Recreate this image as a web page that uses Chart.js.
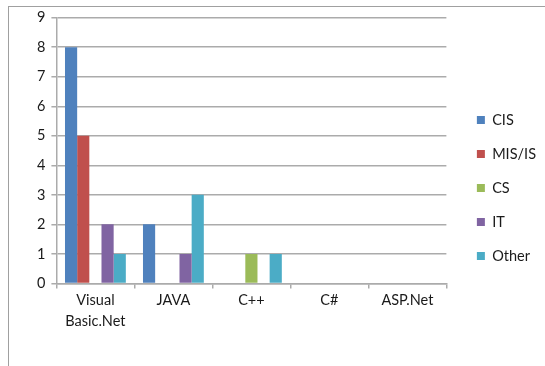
<!DOCTYPE html>
<html>
<head>
<meta charset="utf-8">
<script src="https://cdn.jsdelivr.net/npm/chart.js@4/dist/chart.umd.min.js"></script>
<style>
  html, body { margin: 0; padding: 0; background: #fff; overflow: hidden; }
  .frame {
    position: absolute; left: 8px; top: 6px;
    width: 560px; height: 400px;
    border: 1px solid #a0a0a0;
  }
  .box { position: absolute; left: 0; top: -4px; width: 536px; height: 363px; }
</style>
</head>
<body>
<div class="frame"><div class="box"><canvas id="chart"></canvas></div></div>
<script>
// languages vs. number of programs
const categories = [['Visual', 'Basic.Net'], 'JAVA', 'C++', 'C#', 'ASP.Net'];
const cis   = [8, 2, 0, 0, 0];
const misIs = [5, 0, 0, 0, 0];
const cs    = [0, 0, 1, 0, 0];
const it    = [2, 1, 0, 0, 0];
const other = [1, 3, 1, 0, 0];
const yTicks = [0, 1, 2, 3, 4, 5, 6, 7, 8, 9];

const seriesNames  = ['CIS', 'MIS/IS', 'CS', 'IT', 'Other'];
const seriesValues = [cis, misIs, cs, it, other];
const seriesColors = ['#4F81BD', '#C0504D', '#9BBB59', '#8064A2', '#4BACC6'];

const font = { family: 'Lato, "Open Sans", sans-serif', size: 14.5 };
const textColor = '#1a1a1a';
const gridColor = '#ababab';

// nudge the legend away from the plot, like the original
const legendShift = {
  id: 'legendShift',
  afterLayout(chart) {
    const lg = chart.legend;
    if (!lg) return;
    lg.left += 11; lg.right += 11;
    lg.top += 19; lg.bottom += 19;
  }
};

new Chart(document.getElementById('chart'), {
  type: 'bar',
  data: {
    labels: categories,
    datasets: seriesNames.map((name, i) => ({
      label: name,
      data: seriesValues[i],
      backgroundColor: seriesColors[i],
      borderWidth: 0,
      barPercentage: 1,
      categoryPercentage: 0.78
    }))
  },
  plugins: [legendShift],
  options: {
    responsive: true,
    maintainAspectRatio: false,
    animation: false,
    layout: { padding: { left: 22, top: 2, right: 10, bottom: 33 } },
    plugins: {
      tooltip: { enabled: false },
      legend: {
        position: 'right',
        labels: {
          font: font,
          color: textColor,
          boxWidth: 8,
          boxHeight: 8,
          padding: 19.5
        }
      }
    },
    scales: {
      x: {
        ticks: { font: { ...font, lineHeight: 1.4 }, color: textColor, padding: 2, maxRotation: 0 },
        grid: { drawOnChartArea: false, drawTicks: true, tickLength: 5, color: gridColor, lineWidth: 1.5 },
        border: { color: gridColor, width: 1.5 }
      },
      y: {
        min: 0,
        max: 9,
        afterBuildTicks: axis => { axis.ticks = yTicks.map(v => ({ value: v })); },
        ticks: { font: font, color: textColor, padding: 6 },
        grid: { color: gridColor, lineWidth: 1.5, tickLength: 5 },
        border: { color: gridColor, width: 1.5 }
      }
    }
  }
});
</script>
</body>
</html>
